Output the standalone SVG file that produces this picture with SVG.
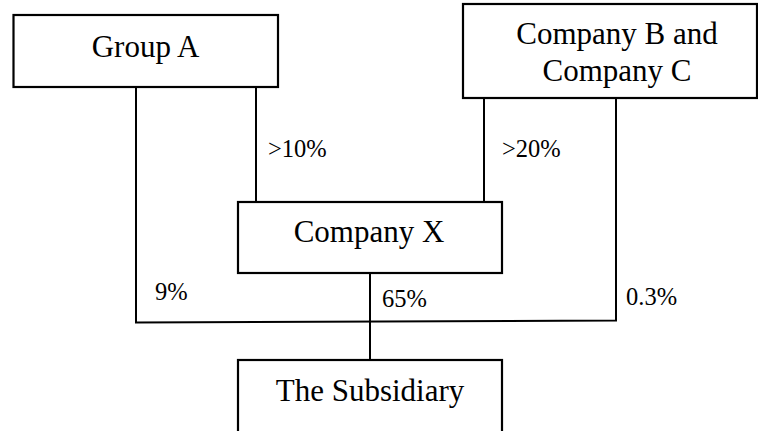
<svg xmlns="http://www.w3.org/2000/svg" width="758" height="431" viewBox="0 0 758 431">
<style>
.box{fill:#fff;stroke:#000;stroke-width:2.2}
.ln{fill:none;stroke:#000;stroke-width:2}
text{font-family:"Liberation Serif","Times New Roman",serif;fill:#000}
.nt{font-size:31px;text-anchor:middle}
.lb{font-size:24.5px}
</style>
<rect width="758" height="431" fill="#fff"/>
<g id="connectors">
<polyline class="ln" points="136,87 136,322.5 616,320.5 616,98"/>
<line class="ln" x1="256" y1="87" x2="256" y2="202"/>
<line class="ln" x1="484" y1="98" x2="484" y2="202"/>
<line class="ln" x1="370" y1="273" x2="370" y2="360"/>
<text class="lb" x="268" y="157">&gt;10%</text>
<text class="lb" x="502" y="157">&gt;20%</text>
<text class="lb" x="155" y="300">9%</text>
<text class="lb" x="382" y="307">65%</text>
<text class="lb" x="626" y="305">0.3%</text>
</g>
<g id="groupA">
<rect class="box" x="13.5" y="15" width="264.5" height="72"/>
<text class="nt" x="145.5" y="57">Group A</text>
</g>
<g id="companyBC">
<rect class="box" x="463" y="4" width="294" height="94"/>
<text class="nt" x="617" y="44">Company B and</text>
<text class="nt" x="617" y="81">Company C</text>
</g>
<g id="companyX">
<rect class="box" x="238" y="202" width="264" height="71"/>
<text class="nt" x="369" y="242">Company X</text>
</g>
<g id="subsidiary">
<rect class="box" x="238" y="360" width="264" height="80"/>
<text class="nt" x="370" y="401">The Subsidiary</text>
</g>
</svg>
